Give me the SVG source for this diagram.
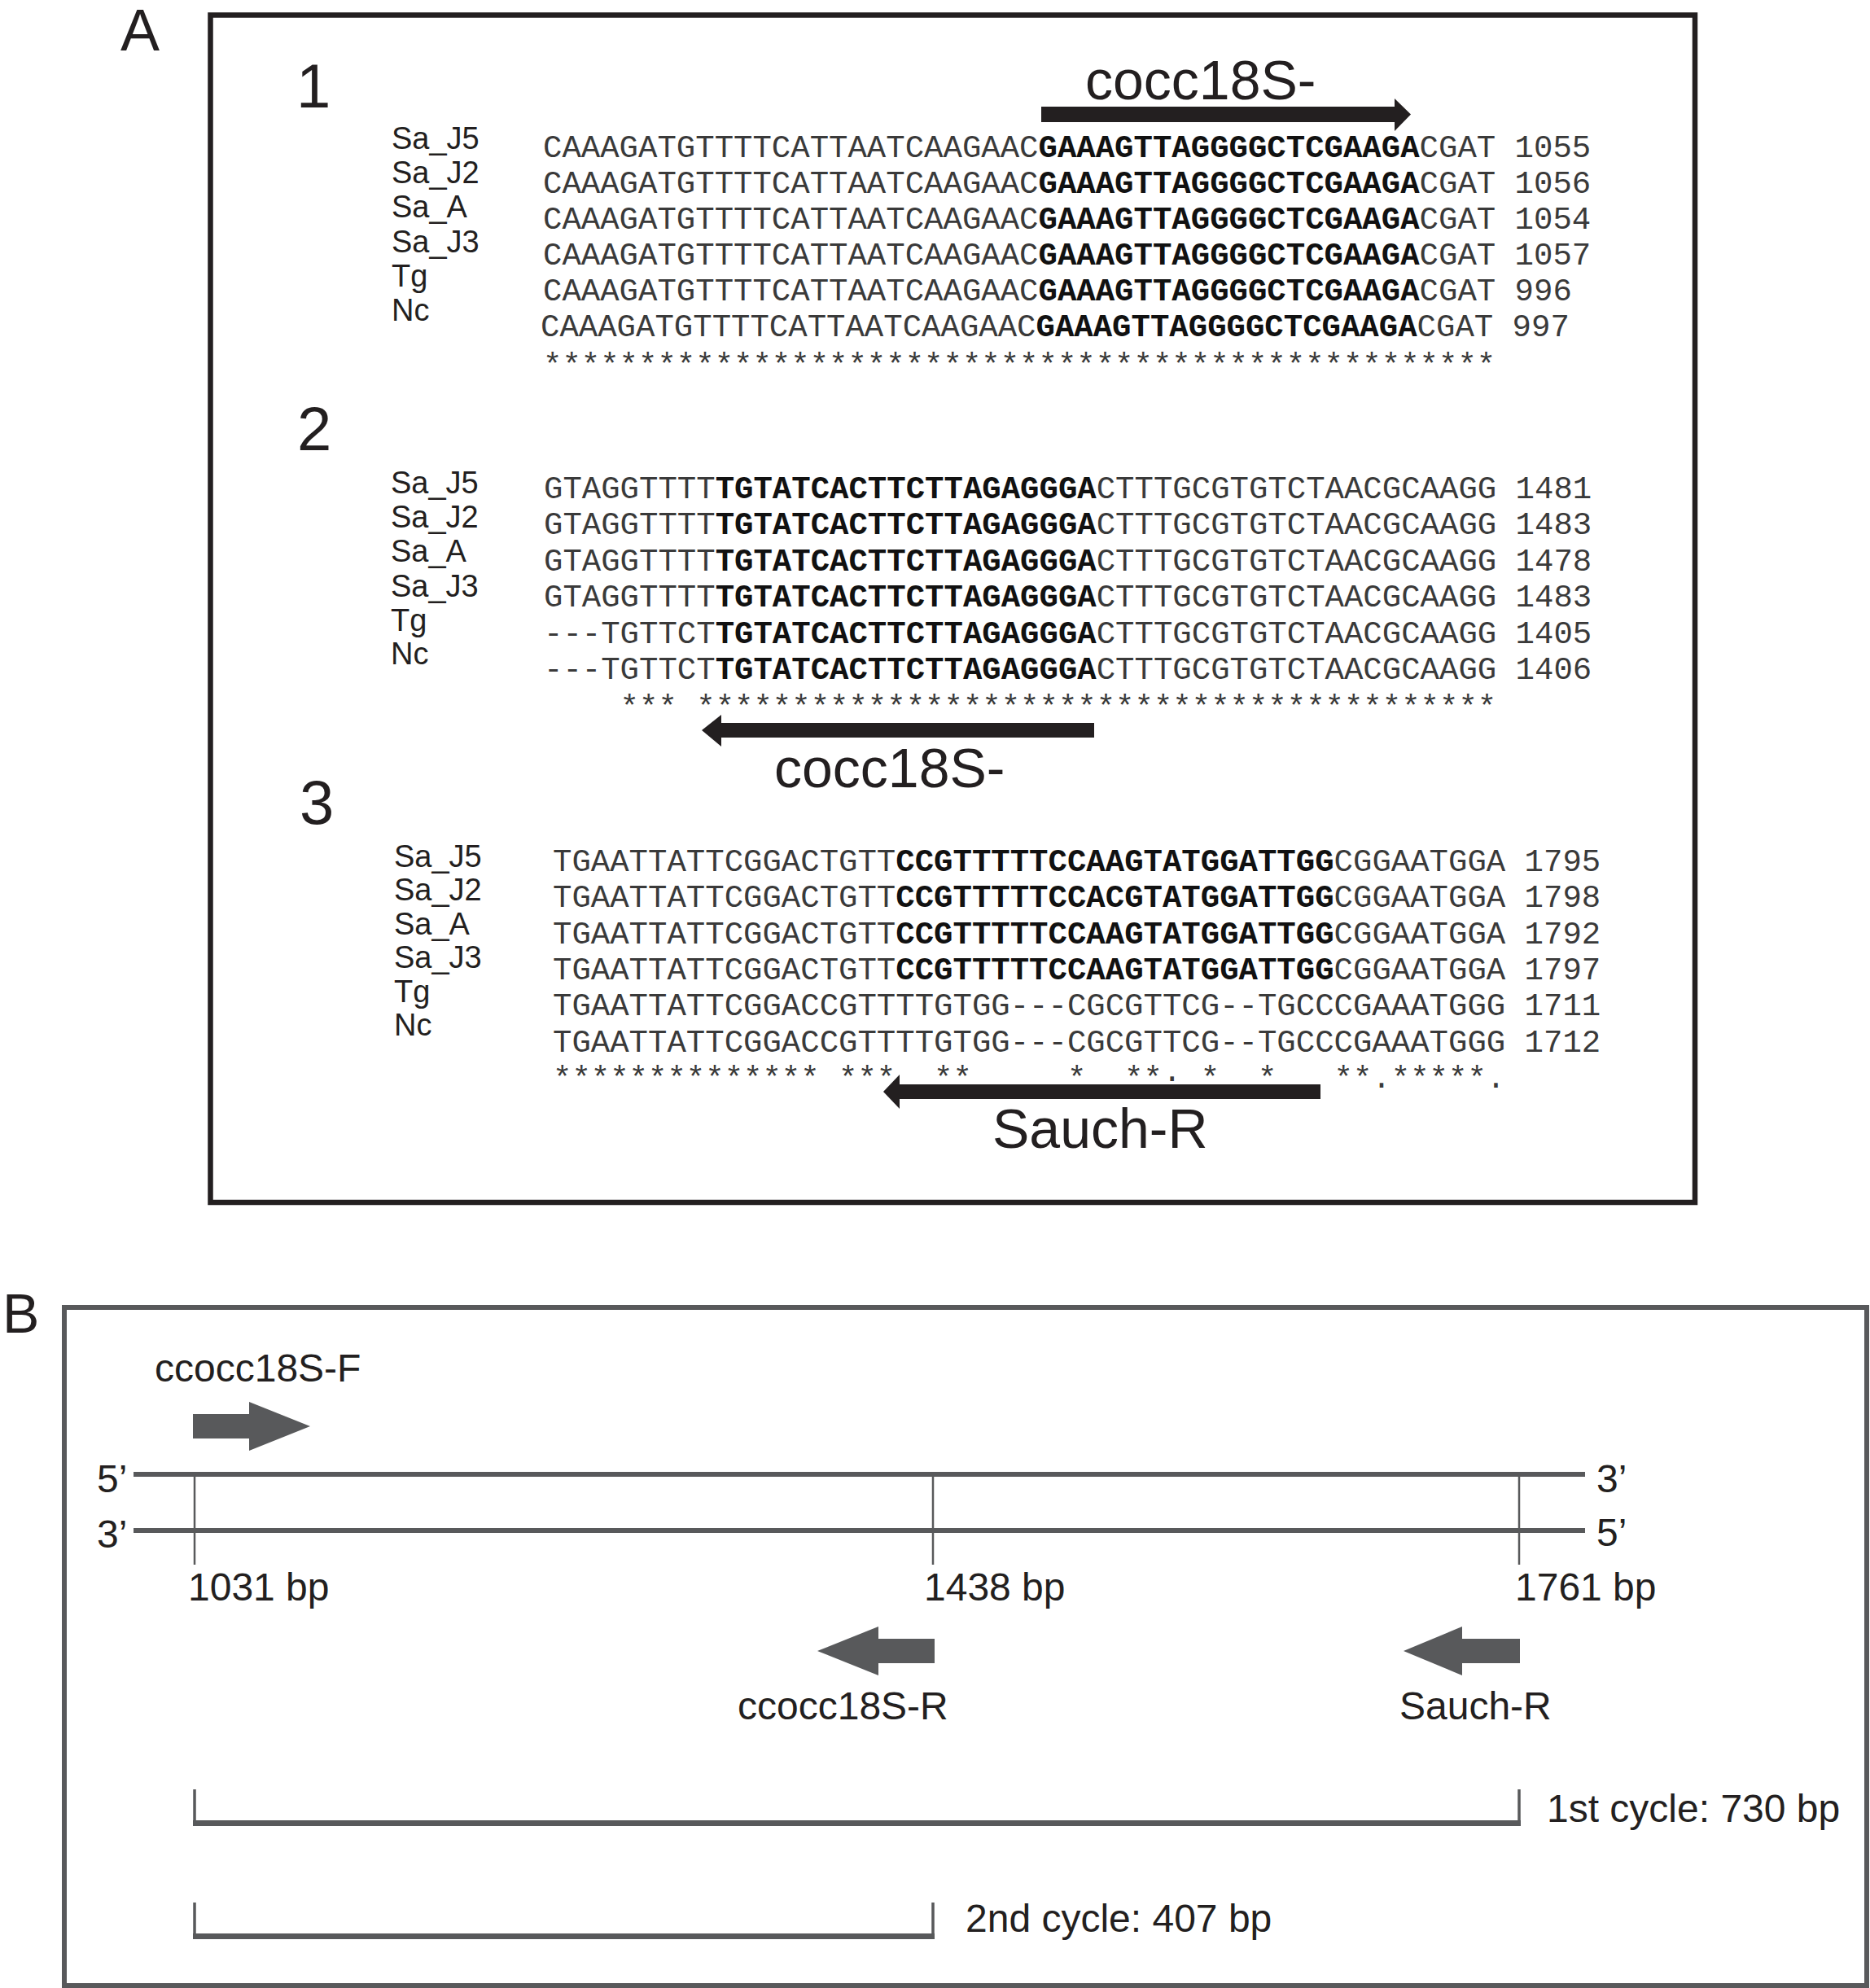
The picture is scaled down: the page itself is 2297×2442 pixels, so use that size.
<svg xmlns="http://www.w3.org/2000/svg" width="2297" height="2442" viewBox="0 0 2297 2442">
<style>
.lbl{font-family:"Liberation Sans",Arial,sans-serif;font-size:38px;fill:#231f20}
.seq{font-family:"Liberation Mono","Courier New",monospace;font-size:39px;fill:#3a3a3a;white-space:pre}
.b{font-weight:bold;fill:#111}
.big{font-family:"Liberation Sans",Arial,sans-serif;font-size:76px;fill:#231f20}
.primer{font-family:"Liberation Sans",Arial,sans-serif;font-size:68px;fill:#231f20}
.bt{font-family:"Liberation Sans",Arial,sans-serif;font-size:48px;fill:#231f20}
.blk{fill:#231f20}
.gry{fill:#58595b}
.strand{stroke:#58595b;stroke-width:6;fill:none}
.tick{stroke:#58595b;stroke-width:2.5;fill:none}
.brk{stroke:#58595b;stroke-width:3.5;fill:none}
</style>

<g id="panelA">
  <text class="big" x="148" y="62" style="font-size:72px">A</text>
  <rect id="boxA" x="258.5" y="18.5" width="1823.5" height="1458.5" fill="none" stroke="#231f20" stroke-width="6.5"/>

  <g id="block1">
    <text class="big" x="364" y="132">1</text>
    <g class="lbl">
      <text x="481" y="183">Sa_J5</text>
      <text x="481" y="225">Sa_J2</text>
      <text x="481" y="267">Sa_A</text>
      <text x="481" y="310">Sa_J3</text>
      <text x="481" y="352">Tg</text>
      <text x="481" y="394">Nc</text>
    </g>
    <g class="seq">
      <text x="667" y="193">CAAAGATGTTTTCATTAATCAAGAAC<tspan class="b">GAAAGTTAGGGGCTCGAAGA</tspan>CGAT 1055</text>
      <text x="667" y="237">CAAAGATGTTTTCATTAATCAAGAAC<tspan class="b">GAAAGTTAGGGGCTCGAAGA</tspan>CGAT 1056</text>
      <text x="667" y="281">CAAAGATGTTTTCATTAATCAAGAAC<tspan class="b">GAAAGTTAGGGGCTCGAAGA</tspan>CGAT 1054</text>
      <text x="667" y="325">CAAAGATGTTTTCATTAATCAAGAAC<tspan class="b">GAAAGTTAGGGGCTCGAAGA</tspan>CGAT 1057</text>
      <text x="667" y="369">CAAAGATGTTTTCATTAATCAAGAAC<tspan class="b">GAAAGTTAGGGGCTCGAAGA</tspan>CGAT 996</text>
      <text x="664" y="413">CAAAGATGTTTTCATTAATCAAGAAC<tspan class="b">GAAAGTTAGGGGCTCGAAGA</tspan>CGAT 997</text>
      <text x="667" y="460" xml:space="preserve">**************************************************</text>
    </g>
    <g id="primer1">
      <rect class="blk" x="1279" y="131" width="436" height="19"/>
      <polygon class="blk" points="1713,121 1733,140.5 1713,161"/>
      <text class="primer" x="1333" y="122">cocc18S-</text>
    </g>
  </g>

  <g id="block2">
    <text class="big" x="365" y="553">2</text>
    <g class="lbl">
      <text x="480" y="606">Sa_J5</text>
      <text x="480" y="648">Sa_J2</text>
      <text x="480" y="690">Sa_A</text>
      <text x="480" y="733">Sa_J3</text>
      <text x="480" y="775">Tg</text>
      <text x="480" y="816">Nc</text>
    </g>
    <g class="seq">
      <text x="668" y="612">GTAGGTTTT<tspan class="b">TGTATCACTTCTTAGAGGGA</tspan>CTTTGCGTGTCTAACGCAAGG 1481</text>
      <text x="668" y="656">GTAGGTTTT<tspan class="b">TGTATCACTTCTTAGAGGGA</tspan>CTTTGCGTGTCTAACGCAAGG 1483</text>
      <text x="668" y="701">GTAGGTTTT<tspan class="b">TGTATCACTTCTTAGAGGGA</tspan>CTTTGCGTGTCTAACGCAAGG 1478</text>
      <text x="668" y="745">GTAGGTTTT<tspan class="b">TGTATCACTTCTTAGAGGGA</tspan>CTTTGCGTGTCTAACGCAAGG 1483</text>
      <text x="668" y="790">---TGTTCT<tspan class="b">TGTATCACTTCTTAGAGGGA</tspan>CTTTGCGTGTCTAACGCAAGG 1405</text>
      <text x="668" y="834">---TGTTCT<tspan class="b">TGTATCACTTCTTAGAGGGA</tspan>CTTTGCGTGTCTAACGCAAGG 1406</text>
      <text x="668" y="880" xml:space="preserve">    *** ******************************************</text>
    </g>
    <g id="primer2">
      <rect class="blk" x="884" y="888" width="460" height="18"/>
      <polygon class="blk" points="886,878 862,897 886,917"/>
      <text class="primer" x="951" y="967">cocc18S-</text>
    </g>
  </g>

  <g id="block3">
    <text class="big" x="368" y="1012">3</text>
    <g class="lbl">
      <text x="484" y="1065">Sa_J5</text>
      <text x="484" y="1106">Sa_J2</text>
      <text x="484" y="1148">Sa_A</text>
      <text x="484" y="1189">Sa_J3</text>
      <text x="484" y="1231">Tg</text>
      <text x="484" y="1272">Nc</text>
    </g>
    <g class="seq">
      <text x="679" y="1070">TGAATTATTCGGACTGTT<tspan class="b">CCGTTTTTCCAAGTATGGATTGG</tspan>CGGAATGGA 1795</text>
      <text x="679" y="1114">TGAATTATTCGGACTGTT<tspan class="b">CCGTTTTTCCACGTATGGATTGG</tspan>CGGAATGGA 1798</text>
      <text x="679" y="1159">TGAATTATTCGGACTGTT<tspan class="b">CCGTTTTTCCAAGTATGGATTGG</tspan>CGGAATGGA 1792</text>
      <text x="679" y="1203">TGAATTATTCGGACTGTT<tspan class="b">CCGTTTTTCCAAGTATGGATTGG</tspan>CGGAATGGA 1797</text>
      <text x="679" y="1247">TGAATTATTCGGACCGTTTTGTGG---CGCGTTCG--TGCCCGAAATGGG 1711</text>
      <text x="679" y="1292">TGAATTATTCGGACCGTTTTGTGG---CGCGTTCG--TGCCCGAAATGGG 1712</text>
      <text x="679" y="1336" xml:space="preserve">************** ***  **     *  **· *  *   **.*****.</text>
    </g>
    <g id="primer3">
      <rect class="blk" x="1103" y="1332" width="519" height="18"/>
      <polygon class="blk" points="1105,1320 1085,1341 1105,1362"/>
      <text class="primer" x="1219" y="1410">Sauch-R</text>
    </g>
  </g>
</g>

<g id="panelB">
  <text class="bt" x="3" y="1637" style="font-size:68px">B</text>
  <rect id="boxB" x="79" y="1606" width="2214" height="833" fill="none" stroke="#58595b" stroke-width="6"/>

  <g id="connectors">
    <line id="strand-top" class="strand" x1="164" y1="1811" x2="1947" y2="1811"/>
    <line id="strand-bottom" class="strand" x1="164" y1="1880" x2="1947" y2="1880"/>
    <line class="tick" x1="239" y1="1811" x2="239" y2="1922"/>
    <line class="tick" x1="1146" y1="1811" x2="1146" y2="1922"/>
    <line class="tick" x1="1866" y1="1811" x2="1866" y2="1922"/>
    <path id="cycle1" class="brk" d="M239 2198 V2240 M1866 2198 V2240"/>
    <rect class="gry" x="237" y="2236" width="1631" height="7"/>
    <path id="cycle2" class="brk" d="M239 2337 V2378 M1146 2337 V2378"/>
    <rect class="gry" x="237" y="2375" width="911" height="7"/>
  </g>

  <g id="ends" class="bt">
    <text x="119" y="1833">5’</text>
    <text x="119" y="1901">3’</text>
    <text x="1961" y="1833">3’</text>
    <text x="1961" y="1899">5’</text>
  </g>

  <g id="primerF">
    <text class="bt" x="190" y="1697">ccocc18S-F</text>
    <rect class="gry" x="237" y="1737" width="71" height="30"/>
    <polygon class="gry" points="306,1722 381,1752 306,1782"/>
  </g>

  <g id="positions" class="bt">
    <text x="231" y="1966">1031 bp</text>
    <text x="1135" y="1966">1438 bp</text>
    <text x="1861" y="1966">1761 bp</text>
  </g>

  <g id="primerR">
    <rect class="gry" x="1077" y="2013" width="71" height="30"/>
    <polygon class="gry" points="1079,1998 1004,2028 1079,2058"/>
    <text class="bt" x="906" y="2112">ccocc18S-R</text>
  </g>

  <g id="primerSauch">
    <rect class="gry" x="1794" y="2013" width="73" height="30"/>
    <polygon class="gry" points="1796,1998 1724,2028 1796,2058"/>
    <text class="bt" x="1719" y="2112">Sauch-R</text>
  </g>

  <g id="cycles" class="bt">
    <text x="1900" y="2238">1st cycle: 730 bp</text>
    <text x="1186" y="2373">2nd cycle: 407 bp</text>
  </g>
</g>
</svg>
